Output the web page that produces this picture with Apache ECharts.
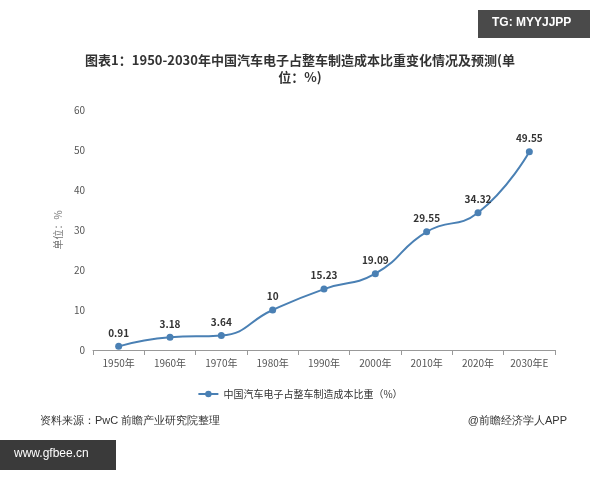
<!DOCTYPE html>
<html><head><meta charset="utf-8">
<script src="https://cdn.jsdelivr.net/npm/echarts@6/dist/echarts.min.js"></script>
<style>html,body{margin:0;padding:0;background:#fff}#c{width:600px;height:480px}</style>
</head><body><div id="c"></div>
<script>
const categories = ['1950年','1960年','1970年','1980年','1990年','2000年','2010年','2020年','2030年E'];
const values = [0.91,3.18,3.64,10,15.23,19.09,29.55,34.32,49.55];
const seriesName = '中国汽车电子占整车制造成本比重（%）';
const chart = echarts.init(document.getElementById('c'));
chart.setOption({
  animation:false,
  textStyle:{fontFamily:'"Noto Sans CJK SC", sans-serif'},
  title:{text:'图表1：1950-2030年中国汽车电子占整车制造成本比重变化情况及预测(单\n位：%)',left:'center',top:47,
    textStyle:{fontSize:13,fontWeight:'bold',color:'#333',lineHeight:17}},
  graphic:[
    {type:'rect',shape:{x:478,y:10,width:112,height:28},style:{fill:'#4a4a4a'}},
    {type:'text',left:492,top:17,style:{text:'TG: MYYJJPP',fill:'#fff',fontSize:12,fontWeight:'bold'}},
    {type:'rect',shape:{x:0,y:440,width:116,height:30},style:{fill:'#3a3a3a'}},
    {type:'text',left:14,top:448,style:{text:'www.gfbee.cn',fill:'#fff',fontSize:12}},
    {type:'text',left:40,top:415,style:{text:'资料来源：PwC 前瞻产业研究院整理',fill:'#333',fontSize:11}},
    {type:'text',right:33,top:415,style:{text:'@前瞻经济学人APP',fill:'#333',fontSize:11}}
  ],
  legend:{bottom:76,left:'center',itemWidth:20,itemHeight:8,textStyle:{fontSize:10,color:'#333'}},
  grid:{left:93,right:45,top:110,bottom:130},
  xAxis:{type:'category',data:categories,boundaryGap:true,
    axisLine:{lineStyle:{color:'#999'}},axisTick:{show:true,lineStyle:{color:'#999'}},
    axisLabel:{fontSize:10,color:'#555'}},
  yAxis:{type:'value',min:0,max:60,interval:10,name:'单位：%',nameLocation:'middle',nameGap:28,
    nameTextStyle:{fontSize:10,color:'#777'},
    axisLabel:{fontSize:10,color:'#555'},splitLine:{show:false},
    axisLine:{show:false},axisTick:{show:false}},
  series:[{name:seriesName,type:'line',smooth:true,data:values,symbol:'circle',symbolSize:7,
    itemStyle:{color:'#4a80b4'},lineStyle:{color:'#4a80b4',width:2},
    label:{show:true,position:'top',fontSize:10,fontWeight:'bold',color:'#333'}}]
});
</script></body></html>
